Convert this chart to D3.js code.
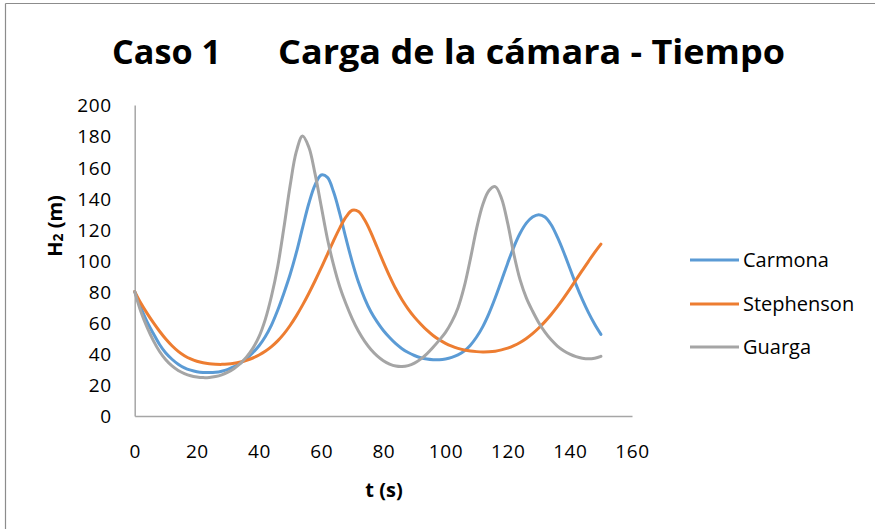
<!DOCTYPE html>
<html>
<head>
<meta charset="utf-8">
<script src="https://cdn.jsdelivr.net/npm/d3@7"></script>
<style>
  html, body { margin: 0; padding: 0; background: #fff; }
  svg { display: block; }
  text { font-family: "Open Sans", "Noto Sans", sans-serif; fill: #000; }
</style>
</head>
<body>
<svg id="chart" width="875" height="529"></svg>
<script>
const titleLeft = "Caso 1";
const titleRight = "Carga de la cámara - Tiempo";
const xTitle = "t (s)";
const yTitleMain = "H";
const yTitleSub = "2";
const yTitleRest = " (m)";
const seriesNames = ["Carmona", "Stephenson", "Guarga"];
const seriesColors = ["#5B9BD5", "#ED7D31", "#A5A5A5"];
const xTicks = [0, 20, 40, 60, 80, 100, 120, 140, 160];
const yTicks = [0, 20, 40, 60, 80, 100, 120, 140, 160, 180, 200];

const time = [0, 2, 4, 6, 8, 10, 12, 14, 16, 18, 20, 22, 24, 26, 28, 30, 32, 34, 36, 38,
  40, 42, 44, 46, 48, 50, 52, 54, 56, 58, 60, 62, 64, 66, 68, 70, 72, 74, 76, 78,
  80, 82, 84, 86, 88, 90, 92, 94, 96, 98, 100, 102, 104, 106, 108, 110, 112, 114, 116, 118,
  120, 122, 124, 126, 128, 130, 132, 134, 136, 138, 140, 142, 144, 146, 148, 150];

const carmona = [80, 69.5, 60.5, 53, 46, 40.5, 36.5, 33.3, 31, 29.5, 28.5, 28, 27.9, 28.1, 28.8, 30, 31.7, 34, 37, 40.7,
  45.2, 51, 58.5, 68, 79, 91, 105, 121, 136.5, 148.5, 155, 153.5, 144, 130, 114, 99, 86, 75.5, 67, 60.5,
  55, 50.5, 46.5, 43.3, 40.8, 38.9, 37.5, 36.6, 36.2, 36.2, 36.7, 37.7, 39.3, 41.7, 45.5, 50.8, 57.5, 66, 76, 87,
  98.3, 108.8, 117.5, 124, 128, 129.5, 128, 123, 115, 105.5, 95, 84.5, 75, 66.5, 59, 52.5];

const stephenson = [80, 72.5, 66, 60, 54.5, 49.5, 45.2, 41.6, 38.8, 36.7, 35.2, 34.2, 33.6, 33.3, 33.2, 33.4, 33.9, 34.7, 35.8, 37.3,
  39.2, 41.6, 44.6, 48.3, 52.8, 58.2, 64.4, 71.3, 78.8, 86.8, 95.2, 104, 112.8, 121, 128, 132.3, 131.5, 126, 118, 108.5,
  99, 90, 81.8, 74.8, 68.8, 63.6, 59.2, 55.2, 51.8, 49, 46.7, 44.9, 43.5, 42.5, 41.8, 41.4, 41.2, 41.3, 41.7, 42.5,
  43.6, 45.2, 47.3, 49.9, 53, 56.6, 60.7, 65.3, 70.3, 75.8, 81.6, 87.6, 93.6, 99.5, 105.2, 110.5];

const guarga = [80, 67, 57, 48.5, 41.5, 36.2, 32.2, 29.3, 27.3, 25.9, 25.1, 24.7, 24.8, 25.4, 26.5, 28.2, 30.6, 33.8, 38, 43.5,
  51, 62, 77, 96, 121, 148, 170, 180, 173, 156, 135, 114, 97, 83, 72, 62.5, 54.5, 48, 42.8, 38.7,
  35.6, 33.4, 32.1, 31.8, 32.4, 34, 36.6, 40, 44.2, 48.8, 53.8, 60.5, 69.5, 83, 101, 120.5, 136, 145, 147.5, 140,
  124, 104, 87.5, 76, 67.5, 60, 54, 49, 45, 42, 39.8, 38.2, 37.2, 36.8, 37.2, 38.4];

const allSeries = [carmona, stephenson, guarga];

const svg = d3.select("#chart");

// outer frame (top and left edges visible)
svg.append("line").attr("x1", 5.5).attr("x2", 875).attr("y1", 3.5).attr("y2", 3.5)
  .attr("stroke", "#8c8c8c").attr("stroke-width", 1.2);
svg.append("line").attr("x1", 5.5).attr("x2", 5.5).attr("y1", 3.5).attr("y2", 529)
  .attr("stroke", "#8c8c8c").attr("stroke-width", 1.2);

const x = d3.scaleLinear().domain([0, 160]).range([134.7, 632]);
const y = d3.scaleLinear().domain([0, 200]).range([416, 105]);

// title
svg.append("text").attr("x", 112).attr("y", 64)
  .attr("font-size", 34).attr("font-weight", 700)
  .attr("textLength", 109).attr("lengthAdjust", "spacingAndGlyphs").text(titleLeft);
svg.append("text").attr("x", 278).attr("y", 64)
  .attr("font-size", 34).attr("font-weight", 700)
  .attr("textLength", 507).attr("lengthAdjust", "spacingAndGlyphs").text(titleRight);

// axes
const yAxis = d3.axisLeft(y).tickValues(yTicks).tickSize(0).tickPadding(23);
const yg = svg.append("g").attr("transform", `translate(${x(0)},0)`).call(yAxis);
yg.select(".domain").attr("stroke", "#a6a6a6").attr("stroke-width", 1.5);
yg.selectAll(".tick text").attr("font-size", 19).attr("letter-spacing", 0.6)
  .attr("font-family", "Open Sans").attr("fill", "#000").attr("dy", "0.36em");

const xAxis = d3.axisBottom(x).tickValues(xTicks).tickSize(0).tickPadding(0);
const xg = svg.append("g").attr("transform", `translate(0,${y(0)})`).call(xAxis);
xg.select(".domain").attr("stroke", "#a6a6a6").attr("stroke-width", 1.5);
xg.selectAll(".tick text").attr("font-size", 19).attr("letter-spacing", 0.6)
  .attr("font-family", "Open Sans").attr("fill", "#000")
  .attr("y", 35).attr("dy", "0.36em");

// axis titles
svg.append("text").attr("x", 384).attr("y", 497)
  .attr("text-anchor", "middle").attr("font-size", 20).attr("font-weight", 700).text(xTitle);

const yt = svg.append("text")
  .attr("transform", `translate(62,226) rotate(-90)`)
  .attr("text-anchor", "middle").attr("font-size", 20).attr("font-weight", 700);
yt.append("tspan").text(yTitleMain);
yt.append("tspan").attr("font-size", 14).attr("dy", 1).text(yTitleSub);
yt.append("tspan").attr("dy", -1).text(yTitleRest);

// lines
const line = d3.line()
  .x((d, i) => x(time[i]))
  .y(d => y(d))
  .curve(d3.curveCatmullRom.alpha(0.5));

allSeries.forEach((s, k) => {
  svg.append("path").datum(s)
    .attr("fill", "none")
    .attr("stroke", seriesColors[k])
    .attr("stroke-width", 3)
    .attr("stroke-linecap", "round")
    .attr("stroke-linejoin", "round")
    .attr("d", line);
});

// legend
const legendY = [260, 304, 347];
seriesNames.forEach((name, k) => {
  svg.append("line").attr("x1", 690).attr("x2", 739)
    .attr("y1", legendY[k]).attr("y2", legendY[k])
    .attr("stroke", seriesColors[k]).attr("stroke-width", 3);
  svg.append("text").attr("x", 743).attr("y", legendY[k]).attr("dy", "0.36em")
    .attr("font-size", 20).text(name);
});
</script>
</body>
</html>
